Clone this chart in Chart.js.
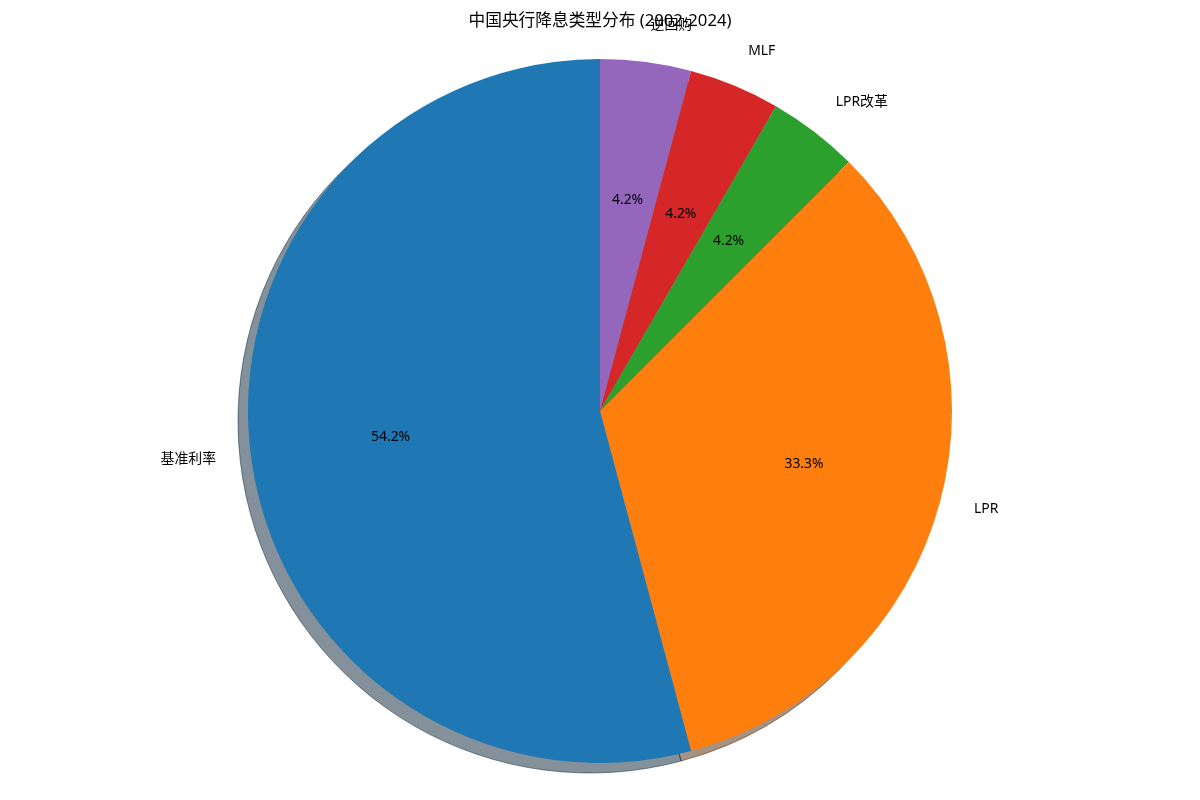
<!DOCTYPE html>
<html>
<head>
<meta charset="utf-8">
<script src="https://cdn.jsdelivr.net/npm/chart.js@4"></script>
<style>
html,body{margin:0;padding:0;background:#fff;}
canvas{display:block;}
</style>
</head>
<body>
<canvas id="c" width="1200" height="800"></canvas>
<script>
const categories = ['逆回购', 'MLF', 'LPR改革', 'LPR', '基准利率'];
const counts = [1, 1, 1, 8, 13];
const colors = ['#9467bd', '#d62728', '#2ca02c', '#ff7f0e', '#1f77b4'];
const titleText = '中国央行降息类型分布 (2002-2024)';

const FONT = '"Noto Sans", "Noto Sans CJK SC", sans-serif';

function hexToRgb(h){
  h = h.replace('#','');
  return [parseInt(h.substr(0,2),16), parseInt(h.substr(2,2),16), parseInt(h.substr(4,2),16)];
}

const shadowPlugin = {
  id: 'shadowPlugin',
  beforeDatasetsDraw(chart){
    const ctx = chart.ctx;
    const meta = chart.getDatasetMeta(0);
    meta.data.forEach((arc, i) => {
      const p = arc.getProps(['x','y','startAngle','endAngle','outerRadius']);
      const rgb = hexToRgb(colors[i]).map(v => v * 0.3);
      const col = `rgba(${rgb[0]},${rgb[1]},${rgb[2]},0.5)`;
      ctx.save();
      ctx.translate(-10, 10);
      ctx.beginPath();
      ctx.moveTo(p.x, p.y);
      ctx.arc(p.x, p.y, p.outerRadius, p.startAngle, p.endAngle);
      ctx.closePath();
      ctx.fillStyle = col;
      ctx.fill();
      ctx.lineWidth = 1;
      ctx.strokeStyle = col;
      ctx.stroke();
      ctx.restore();
    });
  },
  afterDatasetsDraw(chart){
    const ctx = chart.ctx;
    const meta = chart.getDatasetMeta(0);
    const total = counts.reduce((a,b)=>a+b,0);
    ctx.save();
    ctx.fillStyle = '#000';
    ctx.font = '16.7px ' + FONT;
    ctx.textAlign = 'center';
    ctx.textBaseline = 'middle';
    ctx.fillText(titleText, 600, 21);
    ctx.font = '13.9px ' + FONT;
    meta.data.forEach((arc, i) => {
      const p = arc.getProps(['x','y','startAngle','endAngle','outerRadius']);
      const mid = (p.startAngle + p.endAngle) / 2;
      const c = Math.cos(mid), s = Math.sin(mid);
      const lx = p.x + 1.1 * p.outerRadius * c;
      const ly = p.y + 1.1 * p.outerRadius * s - 2;
      ctx.textAlign = c >= 0 ? 'left' : 'right';
      ctx.fillText(categories[i], lx, ly);
      const px = p.x + 0.6 * p.outerRadius * c;
      const py = p.y + 0.6 * p.outerRadius * s - 2;
      ctx.textAlign = 'center';
      ctx.fillText((counts[i] / total * 100).toFixed(1) + '%', px, py);
    });
    ctx.restore();
  }
};

new Chart(document.getElementById('c'), {
  type: 'pie',
  data: {
    labels: categories,
    datasets: [{
      data: counts,
      backgroundColor: colors,
      borderWidth: 0,
      hoverOffset: 0
    }]
  },
  options: {
    responsive: false,
    devicePixelRatio: 1,
    animation: false,
    layout: { padding: { top: 59, bottom: 37, left: 0, right: 0 } },
    plugins: {
      legend: { display: false },
      tooltip: { enabled: false },
      title: { display: false }
    },
    events: []
  },
  plugins: [shadowPlugin]
});
</script>
</body>
</html>
